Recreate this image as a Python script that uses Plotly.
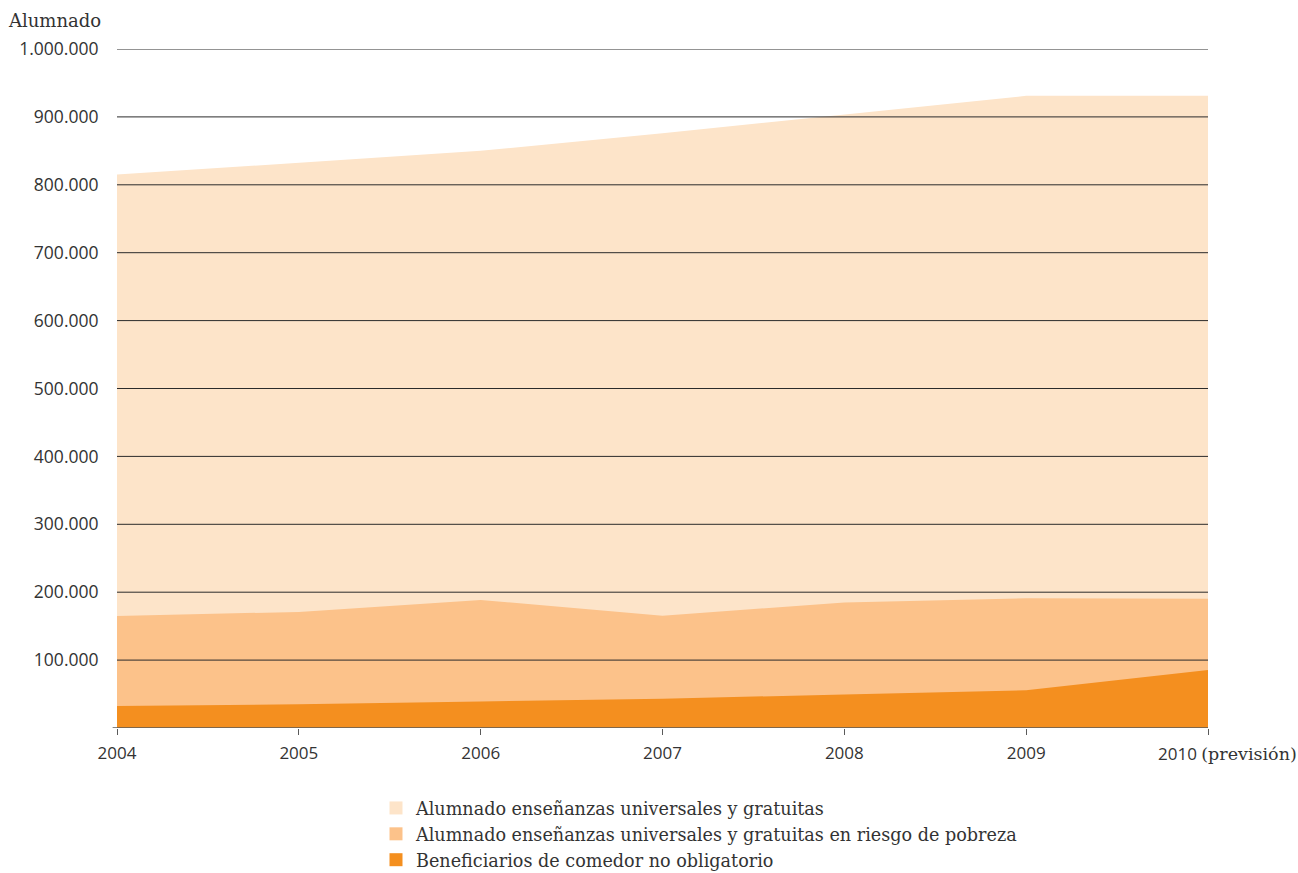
import plotly.graph_objects as go

years = [2004, 2005, 2006, 2007, 2008, 2009, 2010]
year_labels = ["2004", "2005", "2006", "2007", "2008", "2009", ""]
last_year_label = '2010 <span style="font-family:DejaVu Serif;font-size:17.5px">(previsión)</span>'

alumnado_total = [815000, 832000, 850000, 876000, 904000, 931000, 931000]
alumnado_riesgo = [165000, 171000, 188500, 165500, 185000, 191000, 190500]
comedor = [32500, 35000, 39000, 43000, 49500, 55500, 85500]

series_names = [
    "Alumnado enseñanzas universales y gratuitas",
    "Alumnado enseñanzas universales y gratuitas en riesgo de pobreza",
    "Beneficiarios de comedor no obligatorio",
]
series_colors = ["#FDE4C9", "#FCC28A", "#F48F1F"]

y_ticks = [0, 100000, 200000, 300000, 400000, 500000, 600000, 700000, 800000, 900000, 1000000]
y_tick_labels = ["", "100.000", "200.000", "300.000", "400.000", "500.000",
                 "600.000", "700.000", "800.000", "900.000", "1.000.000"]

SANS = "Open Sans"
SERIF = "DejaVu Serif"
TEXT = "#333333"

W, H = 1298, 873
M_L, M_R, M_T = 117, 90, 49
PLOT_BOTTOM = 728  # pixel row of the zero line
paper_h = H - M_T
y_domain_start = (H - PLOT_BOTTOM) / paper_h

fig = go.Figure()
# overlapping filled areas, largest first
for name, vals, col in zip(series_names, [alumnado_total, alumnado_riesgo, comedor], series_colors):
    fig.add_trace(go.Scatter(
        x=years, y=vals, name=name, mode="lines",
        fill="tozeroy", fillcolor=col,
        line=dict(width=0, color=col), showlegend=False,
    ))

# square legend swatches
for i, (name, col) in enumerate(zip(series_names, series_colors)):
    fig.add_trace(go.Scatter(
        x=[None], y=[None], name=name, mode="markers",
        marker=dict(symbol="square", size=13, color=col),
        legendgroup=f"g{i}",
    ))

# horizontal gridlines drawn over the filled areas
shapes = []
for v in y_ticks[1:]:
    shapes.append(dict(type="line", xref="paper", yref="y", x0=0, x1=1, y0=v, y1=v,
                       line=dict(color="#2b2b2b", width=1), layer="above"))
# baseline with a small left overhang
shapes.append(dict(type="line", xref="paper", yref="y", x0=-0.004, x1=1, y0=0, y1=0,
                   line=dict(color="#5a5a5a", width=1.5), layer="above"))

fig.update_layout(
    width=W, height=H,
    margin=dict(l=M_L, r=M_R, t=M_T, b=0, autoexpand=False),
    paper_bgcolor="white", plot_bgcolor="white",
    shapes=shapes,
    showlegend=True,
    legend=dict(
        x=(376 - M_L) / (W - M_L - M_R), y=(H - 790) / paper_h,
        xanchor="left", yanchor="top",
        font=dict(family=SERIF, size=17.6, color=TEXT),
        tracegroupgap=0, itemwidth=30,
        bgcolor="rgba(0,0,0,0)",
    ),
    xaxis=dict(
        range=[2004, 2010], tickvals=years, ticktext=year_labels,
        showgrid=False, zeroline=False, showline=False,
        ticks="outside", ticklen=6, tickcolor="#5a5a5a", tickwidth=1,
        tickfont=dict(family=SANS, size=17, color=TEXT),
        ticklabelstandoff=4, anchor="y",
    ),
    yaxis=dict(
        domain=[y_domain_start, 1],
        range=[0, 1000000], tickvals=y_ticks, ticktext=y_tick_labels,
        showgrid=False, zeroline=False, showline=False,
        ticks="outside", ticklen=14, tickcolor="rgba(0,0,0,0)",
        tickfont=dict(family=SANS, size=17.5, color=TEXT),
    ),
    annotations=[
        dict(text="Alumnado", xref="paper", yref="paper", x=-0.013, y=1.0, yshift=29,
             xanchor="right", yanchor="middle", showarrow=False,
             font=dict(family=SERIF, size=18, color=TEXT)),
        dict(text=last_year_label, xref="x", yref="y", x=2010, y=0, yshift=-25,
             xshift=-52, xanchor="left", yanchor="middle", showarrow=False,
             font=dict(family=SANS, size=17, color=TEXT)),
    ],
)

fig.write_html("out.html")
